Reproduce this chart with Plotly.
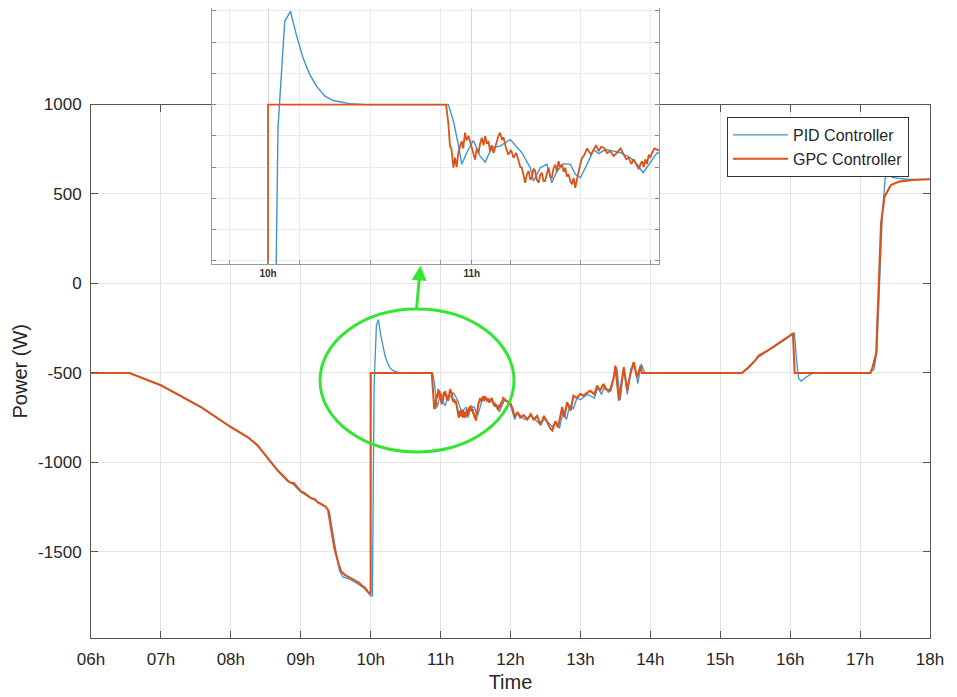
import plotly.graph_objects as go

# ---------------- data (hours, watts) ----------------
pid_t = [6.0, 6.55, 7.0, 7.33, 7.57, 8.0, 8.24, 8.38, 8.52, 8.67, 8.81, 8.9, 9.0, 9.1, 9.19, 9.3, 9.38,
         9.41, 9.44, 9.5, 9.55, 9.6, 9.65, 9.7, 9.8, 9.9, 9.97, 10.0, 10.025, 10.049, 10.082, 10.11,
         10.139, 10.172, 10.205, 10.238, 10.279, 10.32, 10.40, 10.48, 10.885, 10.91, 10.934, 10.951,
         10.975, 11.008, 11.041, 11.066, 11.098, 11.139, 11.189, 11.246, 11.287, 11.303, 11.336, 11.369,
         11.393, 11.418, 11.451, 11.484, 11.508, 11.533, 11.566, 11.598, 11.623, 11.656, 11.697, 11.73,
         11.779, 11.811, 11.841, 11.869, 11.91, 11.95, 12.0, 12.06, 12.1, 12.2, 12.3, 12.4, 12.5, 12.6,
         12.65, 12.7, 12.75, 12.8, 12.85, 12.9, 12.95, 13.0, 13.1, 13.2, 13.25, 13.3, 13.35, 13.4, 13.45,
         13.52, 13.57, 13.62, 13.67, 13.72, 13.77, 13.82, 13.87, 13.92, 15.31, 15.4, 15.5, 15.55, 15.7,
         15.79, 15.9, 16.0, 16.06, 16.09, 16.12, 16.16, 16.22, 16.3, 16.35, 17.13, 17.2, 17.24, 17.28,
         17.32, 17.36, 17.41, 17.46, 17.52, 17.6, 17.7, 18.0]
pid_p = [-500, -500, -569, -640, -692, -802, -860, -900, -975, -1048, -1105, -1125, -1165, -1190, -1211,
         -1232, -1258, -1275, -1350, -1500, -1600, -1640, -1648, -1652, -1675, -1700, -1730, -1745, -1745,
         -574, -234, -202, -277, -351, -404, -441, -473, -487, -497, -500, -500, -553, -628, -691, -654,
         -615, -665, -684, -638, -633, -612, -654, -702, -745, -702, -691, -750, -713, -689, -691, -723,
         -734, -691, -644, -657, -644, -649, -654, -670, -691, -718, -691, -654, -660, -680, -760, -720,
         -760, -740, -780, -760, -800, -770, -810, -720, -760, -680, -700, -640, -650, -620, -640, -580,
         -620, -570, -610, -560, -470, -650, -470, -620, -480, -440, -560, -450, -500, -500, -475, -435,
         -410, -372, -350, -322, -292, -276, -420, -530, -545, -525, -505, -500, -500, -480, -380, 0, 400,
         590, 612, 593, 588, 585, 582, 582]

gpc_t = [6.0, 6.55, 7.0, 7.33, 7.57, 8.0, 8.24, 8.38, 8.52, 8.67, 8.81, 8.85, 8.9, 8.95, 9.0, 9.05, 9.1,
         9.15, 9.2, 9.25, 9.3, 9.35, 9.39, 9.42, 9.48, 9.54, 9.58, 9.63, 9.68, 9.73, 9.78, 9.83, 9.88,
         9.92, 9.95, 9.97, 9.99, 10.0, 10.0, 10.874, 10.885, 10.893, 10.90, 10.91, 10.918, 10.926, 10.934,
         10.95, 10.958, 10.967, 10.975, 10.984, 11.0, 11.008, 11.016, 11.025, 11.033, 11.041, 11.049,
         11.058, 11.066, 11.074, 11.082, 11.09, 11.098, 11.107, 11.115, 11.123, 11.131, 11.139, 11.148,
         11.156, 11.168, 11.18, 11.193, 11.205, 11.218, 11.23, 11.238, 11.246, 11.254, 11.262, 11.27,
         11.279, 11.287, 11.295, 11.303, 11.311, 11.319, 11.328, 11.336, 11.344, 11.352, 11.36, 11.369,
         11.377, 11.385, 11.393, 11.401, 11.41, 11.418, 11.426, 11.434, 11.443, 11.451, 11.459, 11.467,
         11.475, 11.484, 11.492, 11.5, 11.508, 11.516, 11.525, 11.533, 11.541, 11.549, 11.557, 11.566,
         11.574, 11.586, 11.598, 11.61, 11.623, 11.635, 11.648, 11.664, 11.68, 11.697, 11.713, 11.73,
         11.746, 11.758, 11.77, 11.783, 11.795, 11.807, 11.82, 11.828, 11.836, 11.844, 11.852, 11.86,
         11.869, 11.877, 11.885, 11.897, 11.91, 11.92, 11.96, 12.0, 12.03, 12.06, 12.1, 12.14, 12.19,
         12.24, 12.29, 12.33, 12.38, 12.43, 12.48, 12.52, 12.57, 12.6, 12.64, 12.68, 12.74, 12.77, 12.81,
         12.86, 12.9, 12.95, 13.0, 13.04, 13.1, 13.14, 13.2, 13.24, 13.28, 13.33, 13.36, 13.43, 13.48,
         13.5, 13.55, 13.62, 13.67, 13.71, 13.76, 13.81, 13.86, 13.88, 15.31, 15.4, 15.5, 15.55, 15.7,
         15.79, 15.9, 16.0, 16.04, 16.065, 17.15, 17.18, 17.23, 17.265, 17.30, 17.35, 17.44, 17.56,
         17.75, 17.99, 18.0]
gpc_p = [-500, -500, -569, -638, -690, -802, -858, -904, -969, -1044, -1100, -1112, -1115, -1138, -1160,
         -1170, -1183, -1200, -1205, -1225, -1235, -1245, -1265, -1330, -1480, -1566, -1610, -1628, -1640,
         -1650, -1662, -1672, -1690, -1700, -1718, -1725, -1735, -1730, -500, -500, -560, -633, -640, -702,
         -670, -700, -654, -617, -640, -590, -615, -600, -638, -660, -676, -640, -655, -625, -606, -630,
         -601, -625, -617, -650, -630, -655, -635, -617, -600, -590, -610, -605, -640, -660, -645, -670,
         -655, -680, -700, -702, -730, -750, -725, -712, -740, -734, -705, -712, -740, -750, -725, -718,
         -745, -745, -720, -702, -730, -734, -705, -692, -715, -681, -700, -692, -715, -702, -730, -723,
         -745, -755, -735, -766, -740, -707, -690, -670, -665, -654, -640, -649, -660, -644, -630, -649,
         -635, -638, -655, -649, -665, -654, -640, -660, -675, -670, -690, -675, -690, -707, -690, -681,
         -700, -675, -690, -660, -670, -654, -640, -644, -649, -660, -671, -700, -746, -720, -750, -736,
         -760, -730, -760, -740, -792, -740, -770, -810, -822, -770, -803, -690, -748, -664, -710, -627,
         -640, -617, -627, -610, -599, -620, -571, -600, -561, -590, -599, -520, -459, -655, -468, -599,
         -515, -440, -524, -459, -500, -500, -470, -430, -403, -370, -347, -320, -290, -278, -500, -500,
         -466, -392, 0, 336, 485, 550, 569, 578, 582, 582]

x_ticks = [6, 7, 8, 9, 10, 11, 12, 13, 14, 15, 16, 17, 18]
x_labels = ["06h", "07h", "08h", "09h", "10h", "11h", "12h", "13h", "14h", "15h", "16h", "17h", "18h"]
y_ticks = [-1500, -1000, -500, 0, 500, 1000]
y_labels = ["-1500", "-1000", "-500", "0", "500", "1000"]
inset_x_ticks = [10, 11]
inset_x_labels = ["10h", "11h"]
inset_y_ticks = [-1000, -900, -800, -700, -600, -500, -400, -300, -200]

BLUE = "#3d93d3"
ORANGE = "#d9541a"
GREEN = "#36e436"
FONT = "Liberation Sans, Arial, sans-serif"

fig = go.Figure()
fig.add_trace(go.Scatter(x=pid_t, y=pid_p, mode="lines", name="PID Controller",
                         line=dict(color=BLUE, width=1.3), xaxis="x", yaxis="y"))
fig.add_trace(go.Scatter(x=gpc_t, y=gpc_p, mode="lines", name="GPC Controller",
                         line=dict(color=ORANGE, width=2.1), xaxis="x", yaxis="y"))
fig.add_trace(go.Scatter(x=pid_t, y=pid_p, mode="lines", showlegend=False,
                         line=dict(color=BLUE, width=1.4), xaxis="x2", yaxis="y2"))
fig.add_trace(go.Scatter(x=gpc_t, y=gpc_p, mode="lines", showlegend=False,
                         line=dict(color=ORANGE, width=1.8), xaxis="x2", yaxis="y2"))

# page offset from default body margin
OFF = 8
W, H = 957, 697
L, R, T, B = 83, 35, 0, 67
PW, PH = W - L - R, H - T - B

def px(xp):  # reference page x -> paper
    return (xp - OFF - L) / PW

def py(yp):  # reference page y -> paper
    return (H - B - (yp - OFF)) / PH

fig.update_layout(
    width=W, height=H,
    margin=dict(l=L, r=R, t=T, b=B, pad=0),
    paper_bgcolor="white", plot_bgcolor="white",
    font=dict(family=FONT, color="#262626"),
    showlegend=True,
    legend=dict(x=px(727), y=py(117), xanchor="left", yanchor="top",
                bgcolor="white", bordercolor="#333333", borderwidth=1,
                font=dict(size=16, family=FONT, color="#262626"),
                itemwidth=55, tracegroupgap=0),
    xaxis=dict(domain=[0, 1], range=[6, 18], tickvals=x_ticks, ticktext=x_labels,
               automargin=False,
               showgrid=True, gridcolor="#e3e3e3", gridwidth=1,
               showline=True, linecolor="#555555", linewidth=1, mirror="ticks",
               ticks="inside", ticklen=7, tickcolor="#555555", ticklabelstandoff=6,
               tickfont=dict(size=17, family=FONT, color="#262626"),
               title=dict(text="Time", font=dict(size=20, family=FONT, color="#262626"), standoff=6),
               zeroline=False, anchor="y"),
    yaxis=dict(domain=[0, py(104.5)], range=[-1981, 1000], tickvals=y_ticks, ticktext=y_labels,
               automargin=False,
               showgrid=True, gridcolor="#e3e3e3", gridwidth=1,
               showline=True, linecolor="#555555", linewidth=1, mirror="ticks",
               ticks="inside", ticklen=7, tickcolor="#555555", ticklabelstandoff=5,
               tickfont=dict(size=17, family=FONT, color="#262626"),
               title=dict(text="Power (W)", font=dict(size=20, family=FONT, color="#262626"), standoff=5),
               zeroline=False, anchor="x"),
    xaxis2=dict(domain=[px(212), px(659)], range=[9.725, 11.919], tickvals=inset_x_ticks,
                ticktext=inset_x_labels, automargin=False, showgrid=True, gridcolor="#d6d6d6",
                showline=True, linecolor="#9a9a9a", linewidth=1.2, mirror=True,
                ticks="inside", ticklen=4, tickcolor="#888888",
                tickfont=dict(size=10, family=FONT, color="#333333", weight="bold"),
                minor=dict(tick0=9.812, dtick=0.3445, showgrid=True, gridcolor="#ebebeb",
                           ticks="inside", ticklen=4, tickcolor="#999999"),
                zeroline=False, anchor="y2"),
    yaxis2=dict(domain=[py(264), min(1.0, py(6))], range=[-1010, -191], tickvals=inset_y_ticks,
                automargin=False,
                showticklabels=False, showgrid=True, gridcolor="#ebebeb",
                showline=True, linecolor="#9a9a9a", linewidth=1.2, mirror="allticks",
                ticks="inside", ticklen=4, tickcolor="#888888",
                zeroline=False, anchor="x2"),
    shapes=[dict(type="circle", xref="paper", yref="paper",
                 x0=px(320), x1=px(514), y0=py(452), y1=py(309),
                 line=dict(color=GREEN, width=3))],
    annotations=[dict(xref="paper", yref="paper", x=px(420.5), y=py(265.5),
                      ax=-4, ay=44, axref="pixel", ayref="pixel",
                      showarrow=True, arrowhead=2, arrowsize=1, arrowwidth=3,
                      arrowcolor=GREEN, text="")],
)

fig.write_html("out.html")
